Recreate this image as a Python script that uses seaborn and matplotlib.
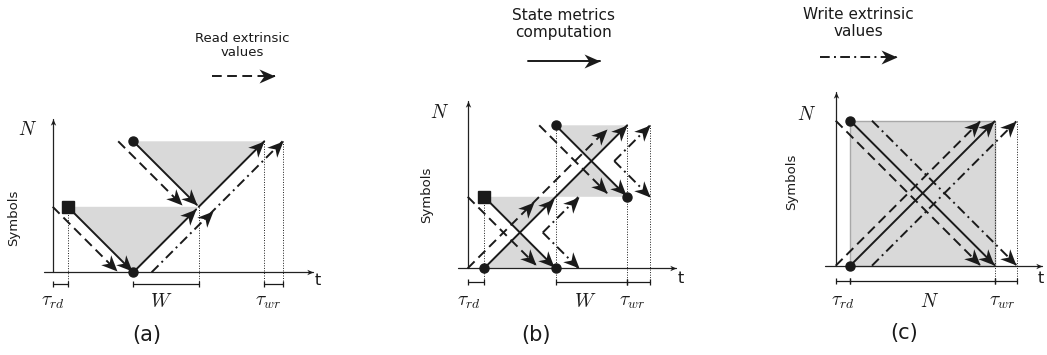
import numpy as np
import pandas as pd
import matplotlib
matplotlib.use("Agg")
import matplotlib.pyplot as plt
from matplotlib.markers import MarkerStyle
from matplotlib.path import Path
from matplotlib.transforms import Affine2D
import seaborn as sns

sns.set_theme(style="white")
plt.rcParams["font.family"] = ["DejaVu Sans"]
plt.rcParams["mathtext.fontset"] = "cm"
plt.rcParams["text.color"] = "black"

W_PX, H_PX = 1047, 355

# -------------------------------
# Data (schematic units: 1 = one window of symbols / time)
# -------------------------------

# panel (a)
a_read = [[(0, 1), (0.98, 0.02)], [(1.0, 2), (1.98, 1.02)]]
a_state = [[(0.23, 1), (1.21, 0.02)], [(1.23, 0), (2.19, 0.96)],
           [(1.23, 2), (2.2, 1.03)], [(2.23, 1), (3.23, 2)]]
a_write = [[(1.51, 0), (2.44, 0.93), (3.51, 2)]]
a_shade = [[(0.23, 1), (2.23, 1), (1.23, 0)], [(1.23, 2), (3.23, 2), (2.23, 1)]]
a_dots = [(1.23, 0), (1.23, 2)]
a_square = [(0.23, 1)]
a_guides = [(0.23, 1), (2.23, 1), (3.23, 2), (3.51, 2)]
a_spans = [(0, 0.23), (1.23, 2.23), (3.23, 3.51)]
a_span_text = [r"$\tau_{rd}$", r"$W$", r"$\tau_{wr}$"]
a_span_x = [0.0, 1.65, 3.29]

# panel (b)
b_read = [[(0, 1), (0.95, 0.05)], [(0, 0), (0.93, 0.93), (1.95, 1.95)],
          [(1.0, 2), (1.95, 1.05)]]
b_state = [[(0.23, 1), (1.21, 0.02)], [(0.23, 0), (1.2, 0.97), (2.23, 2)],
           [(1.23, 2), (2.21, 1.02)]]
b_write = [[(1.05, 0.5), (1.55, 1.0)], [(1.05, 0.5), (1.55, 0.0)],
           [(2.05, 1.5), (2.55, 2.0)], [(2.05, 1.5), (2.55, 1.0)]]
b_shade = [[(0.23, 1), (1.23, 1), (0.73, 0.5)], [(0.23, 0), (1.23, 0), (0.73, 0.5)],
           [(1.23, 2), (2.23, 2), (1.73, 1.5)], [(1.23, 1), (2.23, 1), (1.73, 1.5)]]
b_dots = [(0.23, 0), (1.23, 0), (1.23, 2), (2.23, 1)]
b_square = [(0.23, 1)]
b_guides = [(0.23, 1), (1.23, 2), (2.23, 2), (2.55, 2)]
b_spans = [(0, 0.23), (1.23, 2.23), (2.23, 2.55)]
b_span_text = [r"$\tau_{rd}$", r"$W$", r"$\tau_{wr}$"]
b_span_x = [0.01, 1.65, 2.3]

# panel (c)
c_read = [[(0, 2), (1.99, 0.01)], [(0, 0), (1.99, 1.99)]]
c_state = [[(0.2, 2), (2.19, 0.01)], [(0.2, 0), (2.19, 1.99)]]
c_write = [[(0.5, 2), (2.49, 0.01)], [(0.5, 0), (2.49, 1.99)]]
c_shade = [[(0.2, 0), (2.2, 0), (2.2, 2), (0.2, 2)]]
c_dots = [(0.2, 2), (0.2, 0)]
c_square = []
c_guides = [(2.2, 2), (2.5, 2)]
c_spans = [(0, 0.2), (0.2, 2.2), (2.2, 2.5)]
c_span_text = [r"$\tau_{rd}$", r"$N$", r"$\tau_{wr}$"]
c_span_x = [0.1, 1.29, 2.3]

legend_text = ["Read extrinsic\nvalues", "State metrics\ncomputation", "Write extrinsic\nvalues"]
legend_kind = ["read", "state", "write"]
panel_names = ["(a)", "(b)", "(c)"]

# -------------------------------
# Layout of each panel in pixels
# -------------------------------

panels = [
    dict(px=(0, 345), origin=(52.7, 272.3), unit=65.5,
         read=a_read, state=a_state, write=a_write, shade=a_shade,
         dots=a_dots, square=a_square, guides=a_guides, spans=a_spans,
         span_text=a_span_text, span_x=a_span_x, span_y=-0.18, label_y=-0.45,
         xaxis=(-0.13, 3.97), ytop=2.34, t_pos=(4.05, -0.13),
         n_pos=(-0.38, 2.18), sym_pos=(-0.59, 0.83),
         leg_arrow=[(2.43, 3.0), (3.4, 3.0)], leg_pos=(2.9, 3.46), leg_size=9.5,
         name_pos=(1.44, -0.96), box=False),
    dict(px=(345, 700), origin=(467.7, 268.3), unit=71.5,
         read=b_read, state=b_state, write=b_write, shade=b_shade,
         dots=b_dots, square=b_square, guides=b_guides, spans=b_spans,
         span_text=b_span_text, span_x=b_span_x, span_y=-0.19, label_y=-0.47,
         xaxis=(-0.13, 2.92), ytop=2.34, t_pos=(2.98, -0.14),
         n_pos=(-0.39, 2.18), sym_pos=(-0.57, 1.03),
         leg_arrow=[(0.85, 2.9), (1.85, 2.9)], leg_pos=(1.34, 3.42), leg_size=11,
         name_pos=(0.96, -0.93), box=False),
    dict(px=(700, 1047), origin=(835.7, 265.7), unit=72.5,
         read=c_read, state=c_state, write=c_write, shade=c_shade,
         dots=c_dots, square=c_square, guides=c_guides, spans=c_spans,
         span_text=c_span_text, span_x=c_span_x, span_y=-0.21, label_y=-0.5,
         xaxis=(-0.15, 2.84), ytop=2.4, t_pos=(2.83, -0.17),
         n_pos=(-0.4, 2.08), sym_pos=(-0.61, 1.16),
         leg_arrow=[(-0.22, 2.88), (0.84, 2.88)], leg_pos=(0.31, 3.35), leg_size=11,
         name_pos=(0.94, -0.93), box=True),
]

dash_map = {"read": (5, 2.8), "state": "", "write": (5, 2.2, 1, 2.2)}

arrow_path = Path([(0, 0), (-1, 0.44), (-0.7, 0), (-1, -0.44), (0, 0)],
                  [Path.MOVETO, Path.LINETO, Path.LINETO, Path.LINETO, Path.CLOSEPOLY])


def arrow_head(ax, p0, p1, size=23):
    ang = np.degrees(np.arctan2(p1[1] - p0[1], p1[0] - p0[0]))
    m = MarkerStyle(arrow_path, transform=Affine2D().rotate_deg(ang))
    ax.plot([p1[0]], [p1[1]], marker=m, ms=size, color="k", mew=0, ls="none",
            zorder=5, clip_on=False)


fig = plt.figure(figsize=(W_PX / 100, H_PX / 100), dpi=100)

for i, p in enumerate(panels):
    x0, x1 = p["px"]
    ox, oy = p["origin"]
    u = p["unit"]
    ax = fig.add_axes([x0 / W_PX, 0, (x1 - x0) / W_PX, 1])
    ax.set_xlim((x0 - ox) / u, (x1 - ox) / u)
    ax.set_ylim((oy - H_PX) / u, oy / u)
    ax.axis("off")

    # shaded regions
    for poly in p["shade"]:
        xs, ys = zip(*poly)
        if p["box"]:
            ax.fill(xs, ys, facecolor="#d9d9d9", edgecolor="#a8a8a8", lw=1.0, zorder=1)
        else:
            ax.fill(xs, ys, facecolor="#d9d9d9", edgecolor="none", zorder=1)

    # paths as a long table
    rows = []
    for kind in ["read", "state", "write"]:
        paths = list(p[kind])
        if kind == legend_kind[i]:
            paths = paths + [p["leg_arrow"]]
        for j, path in enumerate(paths):
            for (x, y) in path:
                rows.append(dict(kind=kind, path=f"{kind}{j}", x=x, y=y))
    df = pd.DataFrame(rows)
    sns.lineplot(data=df, x="x", y="y", units="path", style="kind",
                 style_order=["read", "state", "write"], dashes=dash_map,
                 estimator=None, sort=False, color="k", lw=1.4,
                 legend=False, ax=ax, zorder=3)
    for name, g in df.groupby("path"):
        pts = list(zip(g["x"], g["y"]))
        for k in range(1, len(pts)):
            arrow_head(ax, pts[k - 1], pts[k])
    ax.set_xlabel("")
    ax.set_ylabel("")

    # axes with arrows
    ax.plot(p["xaxis"], [0, 0], color="#222222", lw=0.9, zorder=2)
    ax.plot([0, 0], [0, p["ytop"]], color="#222222", lw=0.9, zorder=2)
    arrow_head(ax, (p["xaxis"][0], 0), (p["xaxis"][1], 0), size=9)
    arrow_head(ax, (0, 0), (0, p["ytop"]), size=9)

    # dots and squares
    if p["dots"]:
        dx, dy = zip(*p["dots"])
        ax.plot(dx, dy, "o", color="k", ms=6.5, zorder=6)
    if p["square"]:
        sx, sy = zip(*p["square"])
        ax.plot(sx, sy, "s", color="k", ms=8, zorder=6)

    # dotted guides
    for gx, gtop in p["guides"]:
        ax.plot([gx, gx], [gtop, p["span_y"]], color="k", lw=0.7,
                ls=(0, (1, 1.6)), zorder=2)

    # spans below the time axis
    for (s0, s1), txt, tx in zip(p["spans"], p["span_text"], p["span_x"]):
        ax.plot([s0, s1], [p["span_y"]] * 2, color="k", lw=0.9, marker="|",
                ms=5, mew=0.9, zorder=2)
        ax.text(tx, p["label_y"], txt, ha="center", va="center", fontsize=14,
                color="k")

    ax.text(*p["t_pos"], "t", ha="center", va="center", fontsize=11.5,
            color="k", clip_on=False)
    ax.text(*p["n_pos"], r"$N$", ha="center", va="center", fontsize=14, color="k")
    ax.text(*p["sym_pos"], "Symbols", ha="center", va="center", rotation=90,
            fontsize=9.5, color="k")
    ax.text(*p["leg_pos"], legend_text[i], ha="center", va="center",
            fontsize=p["leg_size"], linespacing=1.15, color="k")
    ax.text(*p["name_pos"], panel_names[i], ha="center", va="center",
            fontsize=15, color="k")

fig.savefig("out.png", dpi=100)
